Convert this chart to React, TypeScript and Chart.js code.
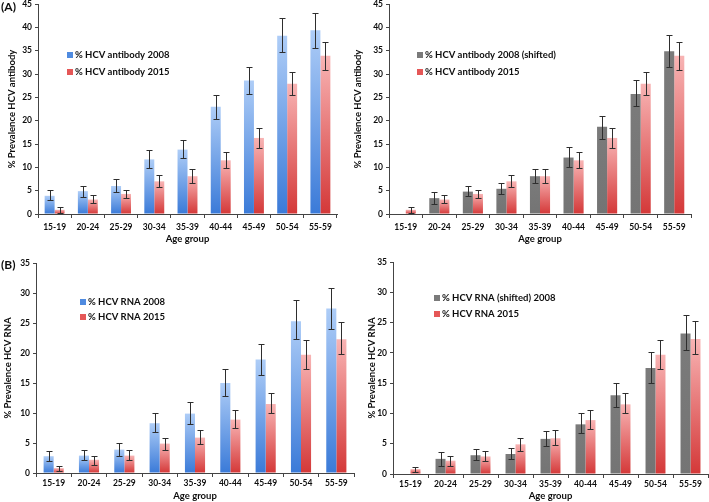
import React, { useEffect, useRef } from "react";
import { Chart, registerables } from "chart.js";
Chart.register(...registerables);

// ---------- data ----------
const ageGroups = ["15-19", "20-24", "25-29", "30-34", "35-39", "40-44", "45-49", "50-54", "55-59"];
const yTicksA = [0, 5, 10, 15, 20, 25, 30, 35, 40, 45];
const yTicksB = [0, 5, 10, 15, 20, 25, 30, 35];

const antibody2008 = [3.9, 4.9, 6.0, 11.7, 13.8, 23.0, 28.6, 38.2, 39.4];
const antibody2008Low = [2.9, 3.6, 4.8, 9.9, 11.9, 20.4, 25.7, 34.7, 35.6];
const antibody2008High = [5.1, 6.0, 7.4, 13.7, 15.9, 25.6, 31.6, 41.9, 43.1];

const antibody2015 = [0.9, 3.1, 4.3, 7.0, 8.1, 11.5, 16.3, 27.9, 33.9];
const antibody2015Low = [0.2, 2.3, 3.4, 5.8, 6.7, 9.8, 14.2, 25.4, 30.9];
const antibody2015High = [1.5, 4.1, 5.2, 8.3, 9.6, 13.3, 18.4, 30.4, 36.9];

const antibody2008Shifted = [null, 3.4, 4.8, 5.4, 8.1, 12.1, 18.7, 25.7, 34.9];
const antibody2008ShiftedLow = [null, 2.2, 3.8, 4.2, 6.6, 10.1, 16.1, 23.1, 31.6];
const antibody2008ShiftedHigh = [null, 4.7, 5.9, 6.7, 9.6, 14.3, 21.1, 28.7, 38.4];

const rna2008 = [2.8, 2.9, 3.9, 8.3, 9.9, 15.0, 18.9, 25.3, 27.4];
const rna2008Low = [2.0, 2.1, 2.9, 6.8, 8.2, 12.9, 16.3, 22.3, 24.0];
const rna2008High = [3.7, 3.9, 5.0, 10.0, 11.8, 17.4, 21.5, 28.8, 30.9];

const rna2015 = [0.8, 2.2, 2.9, 4.9, 5.9, 8.9, 11.5, 19.7, 22.3];
const rna2015Low = [0.4, 1.4, 2.2, 3.8, 4.8, 7.5, 10.0, 17.4, 19.8];
const rna2015High = [1.2, 2.9, 3.8, 5.9, 7.2, 10.5, 13.3, 22.1, 25.2];

const rna2008Shifted = [null, 2.5, 3.1, 3.3, 5.8, 8.2, 13.0, 17.5, 23.2];
const rna2008ShiftedLow = [null, 1.4, 2.3, 2.4, 4.6, 6.8, 11.0, 15.1, 20.5];
const rna2008ShiftedHigh = [null, 3.7, 4.1, 4.3, 7.1, 10.0, 15.1, 20.1, 26.2];

// ---------- styles ----------
const FONT = "Lato, 'Open Sans', sans-serif";
const TEXT = "#0d0d0d";
const AXIS = "#444444";
const BLUE = { top: "#AECDF7", bottom: "#3A7AD8", solid: "#4F8BE0" };
const RED = { top: "#F8B4B4", bottom: "#D43838", solid: "#E55757" };
const GRAY = { top: "#7B7B7B", bottom: "#747474", solid: "#7A7A7A" };

function barGradient(c: { top: string; bottom: string; solid: string }) {
  return (ctx: any) => {
    const chart = ctx.chart;
    if (ctx.type !== "data" || !chart.chartArea || ctx.raw == null) return c.solid;
    const y = chart.scales.y;
    if (!y) return c.solid;
    const yTop = y.getPixelForValue(ctx.raw);
    const yBot = y.getPixelForValue(0);
    if (!isFinite(yTop) || !isFinite(yBot) || yBot - yTop < 1) return c.solid;
    const g = chart.ctx.createLinearGradient(0, yTop, 0, yBot);
    g.addColorStop(0, c.top);
    g.addColorStop(1, c.bottom);
    return g;
  };
}

const errorBarPlugin = {
  id: "errorBars",
  afterDatasetsDraw(chart: any) {
    const ctx = chart.ctx;
    const y = chart.scales.y;
    chart.data.datasets.forEach((ds: any, di: number) => {
      if (!ds.errLow) return;
      const meta = chart.getDatasetMeta(di);
      ctx.save();
      ctx.strokeStyle = "#2e2e2e";
      ctx.lineWidth = 1;
      meta.data.forEach((bar: any, i: number) => {
        const lo = ds.errLow[i];
        const hi = ds.errHigh[i];
        if (lo == null || hi == null) return;
        const x = Math.round(bar.x) + 0.5;
        const y1 = Math.round(y.getPixelForValue(lo)) + 0.5;
        const y2 = Math.round(y.getPixelForValue(hi)) + 0.5;
        ctx.beginPath();
        ctx.moveTo(x, y1);
        ctx.lineTo(x, y2);
        ctx.moveTo(x - 3, y1);
        ctx.lineTo(x + 3, y1);
        ctx.moveTo(x - 3, y2);
        ctx.lineTo(x + 3, y2);
        ctx.stroke();
      });
      ctx.restore();
    });
  },
};

const legendPlugin = {
  id: "insideLegend",
  afterDraw(chart: any) {
    const o = chart.options.plugins.insideLegend;
    if (!o) return;
    const ctx = chart.ctx;
    ctx.save();
    ctx.font = `bold ${o.fontSize}px ${FONT}`;
    ctx.textBaseline = "middle";
    ctx.textAlign = "left";
    chart.data.datasets.forEach((ds: any, i: number) => {
      const cy = o.y + i * o.gap;
      ctx.fillStyle = ds.legendColor;
      ctx.fillRect(o.x, Math.round(cy - o.box / 2), o.box, o.box);
      ctx.fillStyle = TEXT;
      ctx.fillText(ds.label, o.x + o.box + o.textGap, cy);
    });
    ctx.restore();
  },
};

type Series = { label: string; values: (number | null)[]; low: (number | null)[]; high: (number | null)[]; color: any };

type Spec = {
  x: number; y: number; w: number; h: number;
  yMax: number; yTicks: number[]; yTitle: string;
  yw: number; xh: number;
  padding: { left: number; top: number; right: number; bottom: number };
  yTitlePad: number; xTickPad: number; xTitlePad: number;
  catPct: number;
  legend: { x: number; y: number; gap: number };
  series: Series[];
};

const tickFont = { family: FONT, size: 8.5, weight: "bold" as const };
const titleFont = { family: FONT, size: 9.5, weight: "bold" as const };

function buildConfig(s: Spec): any {
  return {
    type: "bar",
    data: {
      labels: ageGroups,
      datasets: s.series.map((ser) => ({
        label: ser.label,
        data: ser.values,
        errLow: ser.low,
        errHigh: ser.high,
        legendColor: ser.color.solid,
        backgroundColor: barGradient(ser.color),
        borderWidth: 0,
        categoryPercentage: s.catPct,
        barPercentage: 1,
      })),
    },
    options: {
      responsive: false,
      animation: false,
      devicePixelRatio: 1,
      layout: { padding: s.padding },
      plugins: {
        legend: { display: false },
        tooltip: { enabled: false },
        insideLegend: { x: s.legend.x, y: s.legend.y, gap: s.legend.gap, box: 6, textGap: 2, fontSize: 9.5 },
      },
      scales: {
        x: {
          grid: { display: true, drawOnChartArea: false, drawTicks: true, tickLength: 4, color: AXIS },
          border: { display: true, color: AXIS, width: 1 },
          ticks: { font: tickFont, color: TEXT, padding: s.xTickPad, maxRotation: 0, autoSkip: false },
          title: { display: true, text: "Age group", font: titleFont, color: TEXT, padding: { top: 0, bottom: s.xTitlePad } },
          afterFit: (sc: any) => {
            sc.height = s.xh;
            sc.paddingLeft = 0;
            sc.paddingRight = 0;
          },
        },
        y: {
          min: 0,
          max: s.yMax,
          afterBuildTicks: (sc: any) => {
            sc.ticks = s.yTicks.map((v) => ({ value: v }));
          },
          grid: { display: true, drawOnChartArea: false, drawTicks: true, tickLength: 3, color: AXIS },
          border: { display: true, color: AXIS, width: 1 },
          ticks: { font: tickFont, color: TEXT, padding: 3 },
          title: { display: true, text: s.yTitle, font: titleFont, color: TEXT, padding: { top: s.yTitlePad, bottom: 0 } },
          afterFit: (sc: any) => {
            sc.width = s.yw;
            sc.paddingTop = 0;
            sc.paddingBottom = 0;
          },
        },
      },
    },
    plugins: [errorBarPlugin, legendPlugin],
  };
}

const specs: Spec[] = [
  {
    x: 0, y: 0, w: 350, h: 250, yMax: 45, yTicks: yTicksA, yTitle: "% Prevalence HCV antibody",
    yw: 38, xh: 36, padding: { left: 0, top: 4, right: 13, bottom: 0 },
    yTitlePad: 6, xTickPad: 4, xTitlePad: 5, catPct: 0.6,
    legend: { x: 67, y: 55, gap: 17 },
    series: [
      { label: "% HCV antibody 2008", values: antibody2008, low: antibody2008Low, high: antibody2008High, color: BLUE },
      { label: "% HCV antibody 2015", values: antibody2015, low: antibody2015Low, high: antibody2015High, color: RED },
    ],
  },
  {
    x: 350, y: 0, w: 359, h: 250, yMax: 45, yTicks: yTicksA, yTitle: "% Prevalence HCV antibody",
    yw: 39, xh: 36, padding: { left: 0, top: 4, right: 18, bottom: 0 },
    yTitlePad: 2, xTickPad: 4, xTitlePad: 5, catPct: 0.6,
    legend: { x: 67, y: 55, gap: 17 },
    series: [
      { label: "% HCV antibody 2008 (shifted)", values: antibody2008Shifted, low: antibody2008ShiftedLow, high: antibody2008ShiftedHigh, color: GRAY },
      { label: "% HCV antibody 2015", values: antibody2015, low: antibody2015Low, high: antibody2015High, color: RED },
    ],
  },
  {
    x: 0, y: 250, w: 360, h: 252, yMax: 35, yTicks: yTicksB, yTitle: "% Prevalence HCV RNA",
    yw: 36, xh: 29, padding: { left: 0, top: 13, right: 6, bottom: 0 },
    yTitlePad: 2, xTickPad: 1, xTitlePad: 0, catPct: 0.57,
    legend: { x: 80, y: 52, gap: 15 },
    series: [
      { label: "% HCV RNA 2008", values: rna2008, low: rna2008Low, high: rna2008High, color: BLUE },
      { label: "% HCV RNA 2015", values: rna2015, low: rna2015Low, high: rna2015High, color: RED },
    ],
  },
  {
    x: 350, y: 250, w: 359, h: 252, yMax: 35, yTicks: yTicksB, yTitle: "% Prevalence HCV RNA",
    yw: 43, xh: 28, padding: { left: 0, top: 12, right: 1, bottom: 0 },
    yTitlePad: 16, xTickPad: 1, xTitlePad: 0, catPct: 0.57,
    legend: { x: 84, y: 48, gap: 16 },
    series: [
      { label: "% HCV RNA (shifted) 2008", values: rna2008Shifted, low: rna2008ShiftedLow, high: rna2008ShiftedHigh, color: GRAY },
      { label: "% HCV RNA 2015", values: rna2015, low: rna2015Low, high: rna2015High, color: RED },
    ],
  },
];

function Panel({ spec }: { spec: Spec }) {
  const ref = useRef<HTMLCanvasElement>(null);
  useEffect(() => {
    if (!ref.current) return;
    const chart = new Chart(ref.current, buildConfig(spec));
    return () => chart.destroy();
  }, [spec]);
  return (
    <canvas
      ref={ref}
      width={spec.w}
      height={spec.h}
      style={{ position: "absolute", left: spec.x, top: spec.y, width: spec.w, height: spec.h }}
    />
  );
}

const panelLabelStyle: React.CSSProperties = {
  position: "absolute",
  left: 1,
  fontFamily: FONT,
  fontWeight: "bold",
  fontSize: 12,
  lineHeight: "12px",
  color: TEXT,
  zIndex: 2,
};

export default function App() {
  return (
    <div style={{ position: "fixed", left: 0, top: 0, width: 709, height: 502, background: "#ffffff", overflow: "hidden" }}>
      {specs.map((s, i) => (
        <Panel key={i} spec={s} />
      ))}
      <div style={{ ...panelLabelStyle, top: 1 }}>(A)</div>
      <div style={{ ...panelLabelStyle, top: 259 }}>(B)</div>
    </div>
  );
}
